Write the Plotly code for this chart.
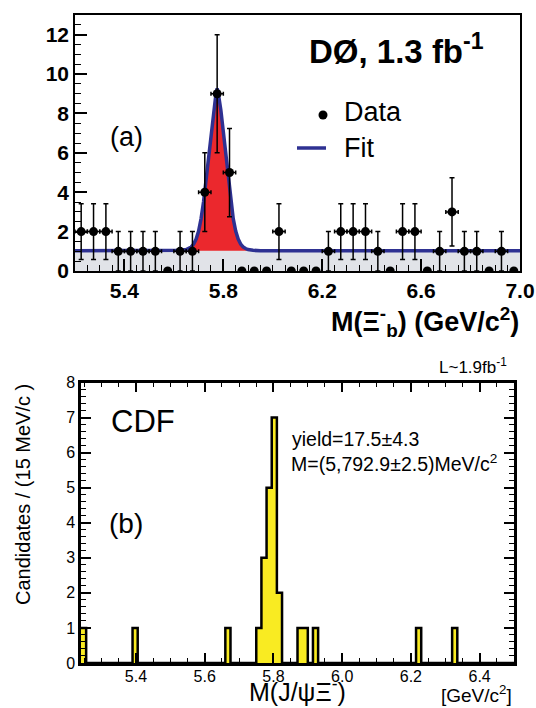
import plotly.graph_objects as go

W, H = 536, 708

# ---------------- Panel (a): DØ ----------------
d0_mass = [5.225, 5.275, 5.325, 5.375, 5.425, 5.475, 5.525, 5.575, 5.625, 5.675,
           5.725, 5.775, 5.825, 5.875, 5.925, 5.975, 6.025, 6.075, 6.125, 6.175,
           6.225, 6.275, 6.325, 6.375, 6.425, 6.475, 6.525, 6.575, 6.625, 6.675,
           6.725, 6.775, 6.825, 6.875, 6.925, 6.975]
d0_counts = [2, 2, 2, 1, 1, 1, 1, 0, 1, 1,
             4, 9, 5, 0, 0, 0, 2, 0, 0, 0,
             1, 2, 2, 2, 1, 0, 2, 2, 0, 1,
             3, 1, 1, 0, 1, 0]
d0_err = [1.41, 1.41, 1.41, 1.0, 1.0, 1.0, 1.0, 0.0, 1.0, 1.0,
          2.0, 3.0, 2.24, 0.0, 0.0, 0.0, 1.41, 0.0, 0.0, 0.0,
          1.0, 1.41, 1.41, 1.41, 1.0, 0.0, 1.41, 1.41, 0.0, 1.0,
          1.73, 1.0, 1.0, 0.0, 1.0, 0.0]
d0_half_bin = 0.025

# fit curve (background + signal)
fit_x = [5.20, 5.60, 5.63, 5.65, 5.66, 5.67, 5.68, 5.69, 5.70, 5.71, 5.72, 5.73,
         5.74, 5.75, 5.76, 5.77, 5.775, 5.78, 5.79, 5.80, 5.81, 5.82, 5.83, 5.84,
         5.85, 5.86, 5.87, 5.88, 5.89, 5.90, 5.92, 5.95, 7.00]
fit_y = [1.03, 1.03, 1.05, 1.09, 1.14, 1.22, 1.37, 1.62, 2.03, 2.66, 3.52, 4.60,
         5.84, 7.09, 8.17, 8.99, 9.27, 8.99, 8.17, 7.09, 5.84, 4.60, 3.52, 2.66,
         2.03, 1.62, 1.37, 1.22, 1.14, 1.09, 1.05, 1.03, 1.03]
bkg_x = [5.2, 7.0]
bkg_y = [1.03, 1.03]

# ---------------- Panel (b): CDF ----------------
cdf_bin_width = 0.015
cdf_range = [5.24, 6.50]
cdf_bin_left = [5.240, 5.390, 5.660, 5.750, 5.765, 5.780, 5.795, 5.810, 5.870,
                5.885, 5.915, 6.215, 6.320]
cdf_counts = [1, 1, 1, 1, 3, 5, 7, 2, 1, 1, 1, 1, 1]

nb = int(round((cdf_range[1] - cdf_range[0]) / cdf_bin_width))
full = [0] * nb
for e, c in zip(cdf_bin_left, cdf_counts):
    full[int(round((e - cdf_range[0]) / cdf_bin_width))] = c
step_x = [cdf_range[0] + k * cdf_bin_width for k in range(nb + 1)]
step_y = full + [full[-1]]

RED = "#eb282d"
GREY = "#e1e3e8"
BLUE = "#2e3192"
YELLOW = "#f9eb22"
FONT = "Liberation Sans"

fig = go.Figure()

# signal (red) area under total fit
fig.add_trace(go.Scatter(x=fit_x, y=fit_y, mode="lines", line=dict(width=0, color=RED),
                         fill="tozeroy", fillcolor=RED, hoverinfo="skip",
                         xaxis="x", yaxis="y", showlegend=False))
# background band
fig.add_trace(go.Scatter(x=bkg_x, y=bkg_y, mode="lines", line=dict(width=0, color=GREY),
                         fill="tozeroy", fillcolor=GREY, hoverinfo="skip",
                         xaxis="x", yaxis="y", showlegend=False))
# fit line
fig.add_trace(go.Scatter(x=fit_x, y=fit_y, mode="lines", line=dict(width=3.5, color=BLUE),
                         xaxis="x", yaxis="y", name="Fit", showlegend=False))
# data
fig.add_trace(go.Scatter(
    x=d0_mass, y=d0_counts, mode="markers",
    marker=dict(color="black", size=9),
    error_y=dict(type="data", array=d0_err, color="black", thickness=1.5, width=2.5),
    error_x=dict(type="data", array=[d0_half_bin if c > 0 else 0 for c in d0_counts],
                 color="black", thickness=1.5, width=2),
    xaxis="x", yaxis="y", name="Data", showlegend=False))

# CDF histogram
fig.add_trace(go.Scatter(x=step_x, y=step_y, mode="lines", line_shape="hv",
                         line=dict(color="black", width=2.5),
                         fill="tozeroy", fillcolor=YELLOW,
                         xaxis="x2", yaxis="y2", showlegend=False))


def px(x):
    return x / W


def py(y):
    return 1 - y / H


bold_tick = dict(family=FONT, size=21, color="black", weight="bold")
norm_tick = dict(family=FONT, size=16, color="black")

fig.update_layout(
    template="none",
    width=W, height=H, margin=dict(l=0, r=0, t=0, b=0, pad=0, autoexpand=False),
    paper_bgcolor="white", plot_bgcolor="white",
    showlegend=False,
    xaxis=dict(domain=[px(75), px(520)], anchor="y", range=[5.2, 7.0], automargin=False,
               tick0=5.4, dtick=0.4, ticks="inside", ticklen=12, tickwidth=1.5,
               tickcolor="black", showline=True, linewidth=1.5, linecolor="black",
               mirror=True, showgrid=False, zeroline=False, tickfont=bold_tick,
               tickformat=".1f",
               minor=dict(dtick=0.05, ticks="inside", ticklen=6, tickwidth=1,
                          tickcolor="black", showgrid=False)),
    yaxis=dict(domain=[py(271), py(15)], anchor="x", range=[0, 13], automargin=False,
               tick0=0, dtick=2, ticks="inside", ticklen=12, tickwidth=1.5,
               tickcolor="black", showline=True, linewidth=1.5, linecolor="black",
               mirror=True, showgrid=False, zeroline=False, tickfont=bold_tick,
               minor=dict(dtick=0.5, ticks="inside", ticklen=6, tickwidth=1,
                          tickcolor="black", showgrid=False)),
    xaxis2=dict(domain=[px(81), px(514)], anchor="y2", range=cdf_range, automargin=False,
                tick0=5.4, dtick=0.2, ticks="inside", ticklen=10, tickwidth=1.5,
                tickcolor="black", showline=True, linewidth=2.5, linecolor="black",
                mirror="ticks", showgrid=False, zeroline=False, tickfont=norm_tick,
                tickformat=".1f", ticklabelstandoff=-3,
                minor=dict(dtick=0.05, ticks="inside", ticklen=5, tickwidth=1,
                           tickcolor="black", showgrid=False)),
    yaxis2=dict(domain=[py(663), py(382.5)], anchor="x2", range=[0, 8], automargin=False,
                tick0=0, dtick=1, ticks="inside", ticklen=10, tickwidth=1.5,
                tickcolor="black", showline=True, linewidth=2.5, linecolor="black",
                mirror="ticks", showgrid=False, zeroline=False, tickfont=norm_tick,
                minor=dict(dtick=0.2, ticks="inside", ticklen=5, tickwidth=1,
                           tickcolor="black", showgrid=False)),
)


def ann(text, x, y, size, xanchor="center", yanchor="middle", bold=False, angle=0):
    fig.add_annotation(text=text, x=px(x), y=py(y), xref="paper", yref="paper",
                       xanchor=xanchor, yanchor=yanchor, showarrow=False,
                       textangle=angle,
                       font=dict(family=FONT, size=size, color="black",
                                 weight="bold" if bold else "normal"))


# panel (a) texts
ann("DØ, 1.3 fb<sup>-1</sup>", 397, 49, 33, bold=True)
ann("(a)", 126, 137, 27)
ann("Data", 342, 112, 27, xanchor="left")
ann("Fit", 342, 148, 27, xanchor="left")
ann("M(Ξ<sup>-</sup><sub>b</sub>) (GeV/c<sup>2</sup>)", 521, 322, 27,
    xanchor="right", bold=True)

# legend symbols
fig.add_shape(type="circle", xref="paper", yref="paper",
              x0=px(318.5), x1=px(327.5), y0=py(119.5), y1=py(110.5),
              fillcolor="black", line=dict(width=0))
fig.add_shape(type="line", xref="paper", yref="paper",
              x0=px(297), x1=px(326), y0=py(148), y1=py(148),
              line=dict(color=BLUE, width=3.5))

# panel (b) texts
ann("L~1.9fb<sup>-1</sup>", 509, 366, 17, xanchor="right")
ann("CDF", 143, 421, 31)
ann("yield=17.5±4.3", 290, 439, 19.5, xanchor="left")
ann("M=(5,792.9±2.5)MeV/c<sup>2</sup>", 289, 463, 19.5, xanchor="left")
ann("(b)", 126, 523, 28)
ann("Candidates / (15 MeV/c )", 23, 495, 20, angle=-90)
ann("M(J/ψΞ<sup>-</sup>)", 297, 708, 25, yanchor="bottom")
ann("[GeV/c<sup>2</sup>]", 514, 708, 19, xanchor="right", yanchor="bottom")

fig.write_html("out.html", config={"displayModeBar": False},
               post_script="document.body.style.margin='0';"
                           "document.body.style.overflow='hidden';")
